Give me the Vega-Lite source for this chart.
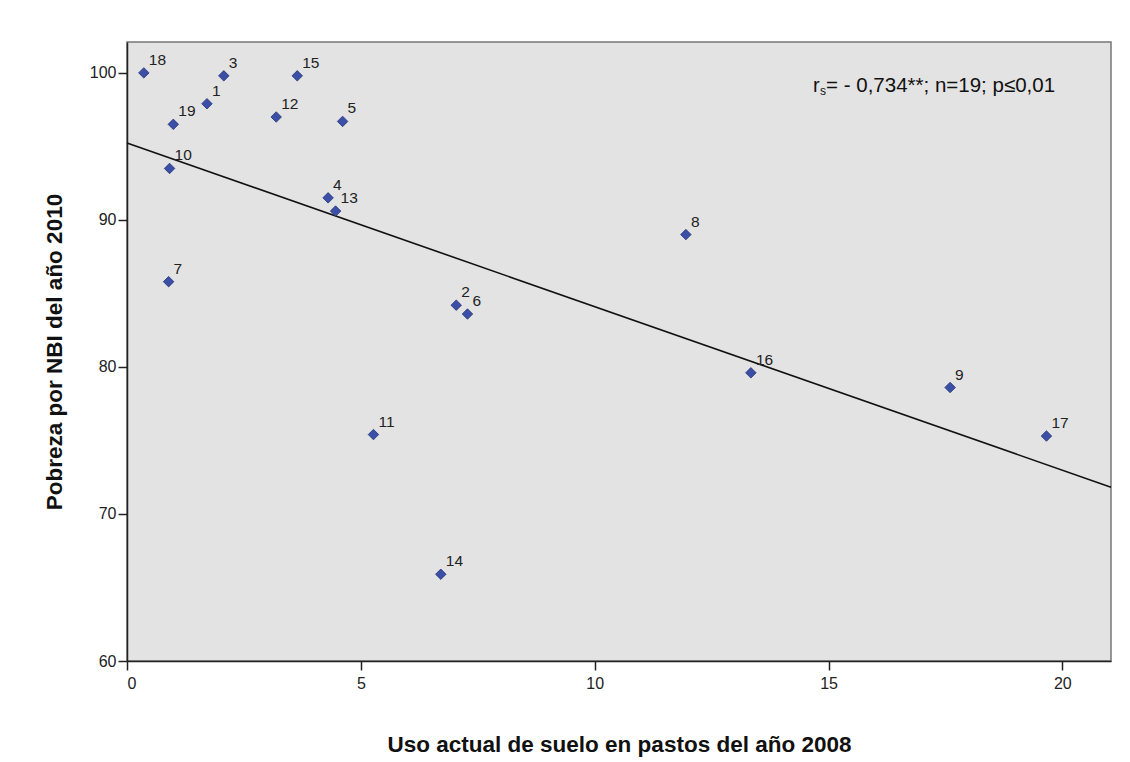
{
  "$schema": "https://vega.github.io/schema/vega-lite/v6.json",
  "width": 984,
  "height": 619,
  "autosize": "none",
  "padding": {"left": 127, "top": 42, "right": 19, "bottom": 101},
  "background": "white",
  "config": {
    "font": "Liberation Sans",
    "view": {"fill": "#e3e3e3", "stroke": "#777777", "strokeWidth": 1.5},
    "axis": {
      "grid": false,
      "domainColor": "#222222",
      "domainWidth": 1.5,
      "tickColor": "#222222",
      "tickWidth": 1.5,
      "tickSize": 9,
      "labelFont": "Liberation Sans",
      "labelFontSize": 16,
      "labelColor": "#222222",
      "titleFont": "Liberation Sans",
      "titleFontSize": 22.5,
      "titleFontWeight": "bold",
      "titleColor": "#111111"
    }
  },
  "datasets": {
    "pts": [
      {"id": "1", "pastos": 1.71, "nbi": 97.9},
      {"id": "2", "pastos": 7.04, "nbi": 84.2},
      {"id": "3", "pastos": 2.07, "nbi": 99.8},
      {"id": "4", "pastos": 4.30, "nbi": 91.5},
      {"id": "5", "pastos": 4.61, "nbi": 96.7},
      {"id": "6", "pastos": 7.28, "nbi": 83.6},
      {"id": "7", "pastos": 0.89, "nbi": 85.8},
      {"id": "8", "pastos": 11.95, "nbi": 89.0},
      {"id": "9", "pastos": 17.60, "nbi": 78.6},
      {"id": "10", "pastos": 0.91, "nbi": 93.5},
      {"id": "11", "pastos": 5.27, "nbi": 75.4},
      {"id": "12", "pastos": 3.19, "nbi": 97.0},
      {"id": "13", "pastos": 4.46, "nbi": 90.6},
      {"id": "14", "pastos": 6.71, "nbi": 65.9},
      {"id": "15", "pastos": 3.64, "nbi": 99.8},
      {"id": "16", "pastos": 13.34, "nbi": 79.6},
      {"id": "17", "pastos": 19.66, "nbi": 75.3},
      {"id": "18", "pastos": 0.36, "nbi": 100.0},
      {"id": "19", "pastos": 0.99, "nbi": 96.5}
    ],
    "fit": [
      {"pastos": 0, "nbi": 95.23},
      {"pastos": 21.04, "nbi": 71.82}
    ],
    "note": [
      {"pastos": 14.67, "nbi": 99.1}
    ]
  },
  "layer": [
    {
      "data": {"name": "fit"},
      "mark": {"type": "line", "color": "#111111", "strokeWidth": 1.6},
      "encoding": {
        "x": {
          "field": "pastos", "type": "quantitative",
          "scale": {"domain": [0, 21.04], "nice": false, "zero": false},
          "axis": {"values": [0, 5, 10, 15, 20], "title": "Uso actual de suelo en pastos del año 2008", "titlePadding": 42, "labelPadding": 5}
        },
        "y": {
          "field": "nbi", "type": "quantitative",
          "scale": {"domain": [60, 102.1], "nice": false, "zero": false},
          "axis": {"values": [60, 70, 80, 90, 100], "title": "Pobreza por NBI del año 2010", "titlePadding": 23, "labelPadding": 2}
        }
      }
    },
    {
      "data": {"name": "pts"},
      "mark": {"type": "point", "shape": "diamond", "filled": true, "size": 110, "color": "#3b4fa8", "stroke": "#26336f", "strokeWidth": 0.8, "opacity": 1},
      "encoding": {
        "x": {"field": "pastos", "type": "quantitative"},
        "y": {"field": "nbi", "type": "quantitative"}
      }
    },
    {
      "data": {"name": "pts"},
      "mark": {"type": "text", "align": "left", "baseline": "alphabetic", "dx": 5, "dy": -8, "fontSize": 15.5, "color": "#222222"},
      "encoding": {
        "x": {"field": "pastos", "type": "quantitative"},
        "y": {"field": "nbi", "type": "quantitative"},
        "text": {"field": "id"}
      }
    },
    {
      "data": {"name": "note"},
      "mark": {"type": "text", "align": "left", "baseline": "middle", "fontSize": 20, "color": "#111111"},
      "encoding": {
        "x": {"field": "pastos", "type": "quantitative"},
        "y": {"field": "nbi", "type": "quantitative"},
        "text": {"value": "r"}
      }
    },
    {
      "data": {"name": "note"},
      "mark": {"type": "text", "align": "left", "baseline": "middle", "fontSize": 12, "dx": 7, "dy": 5, "color": "#111111"},
      "encoding": {
        "x": {"field": "pastos", "type": "quantitative"},
        "y": {"field": "nbi", "type": "quantitative"},
        "text": {"value": "s"}
      }
    },
    {
      "data": {"name": "note"},
      "mark": {"type": "text", "align": "left", "baseline": "middle", "fontSize": 20.5, "dx": 13, "color": "#111111"},
      "encoding": {
        "x": {"field": "pastos", "type": "quantitative"},
        "y": {"field": "nbi", "type": "quantitative"},
        "text": {"value": "= - 0,734**; n=19; p≤0,01"}
      }
    }
  ]
}
